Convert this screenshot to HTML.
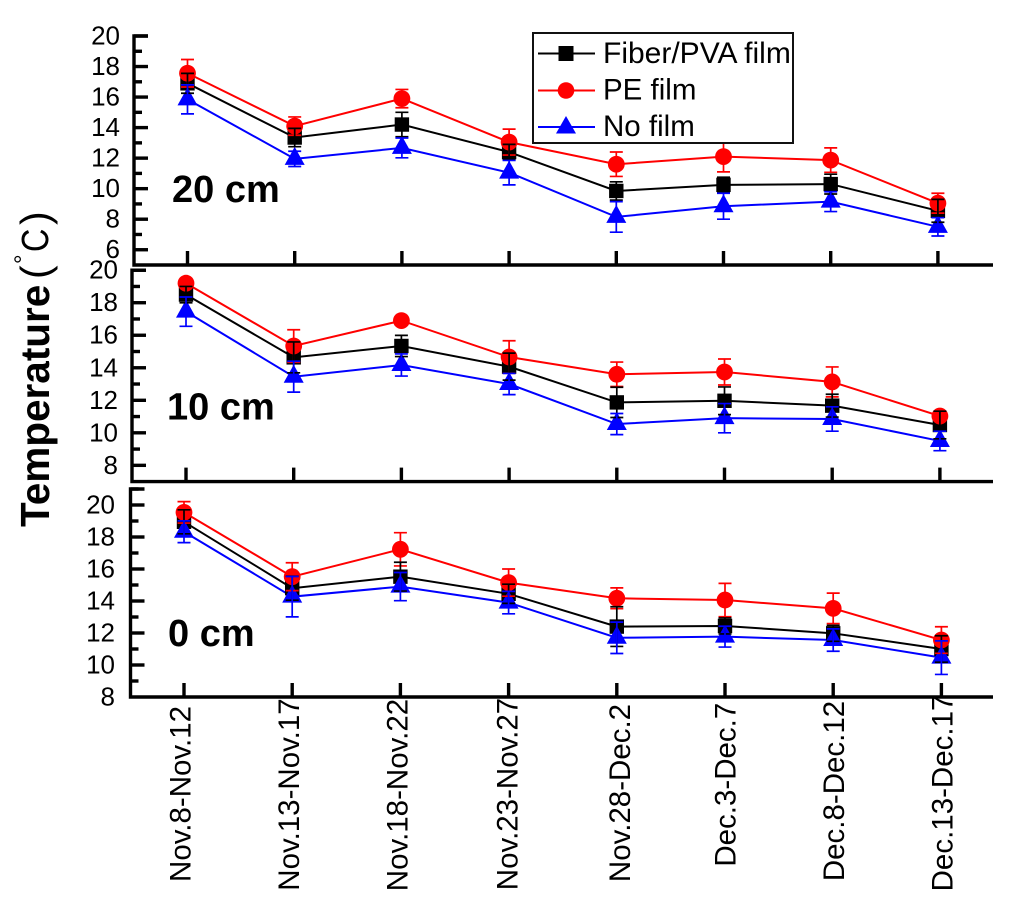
<!DOCTYPE html>
<html lang="en">
<head>
<meta charset="utf-8">
<title>Temperature chart</title>
<style>
html,body{margin:0;padding:0;background:#fff;width:1024px;height:910px;overflow:hidden}
svg{display:block}
text{font-family:"Liberation Sans",sans-serif;fill:#000}
</style>
</head>
<body>
<svg id="chart" xmlns="http://www.w3.org/2000/svg" width="1024" height="910" viewBox="0 0 1024 910">
  <g id="panels"></g>
  <g font-size="29.5" text-anchor="middle">
    <text transform="translate(190.7 794) rotate(-90)">Nov.8-Nov.12</text>
    <text transform="translate(299 794.5) rotate(-90)">Nov.13-Nov.17</text>
    <text transform="translate(407.5 795) rotate(-90)">Nov.18-Nov.22</text>
    <text transform="translate(517.7 794) rotate(-90)">Nov.23-Nov.27</text>
    <text transform="translate(630 793) rotate(-90)">Nov.28-Dec.2</text>
    <text transform="translate(735.7 784.7) rotate(-90)">Dec.3-Dec.7</text>
    <text transform="translate(844 791) rotate(-90)">Dec.8-Dec.12</text>
    <text transform="translate(952.3 793) rotate(-90)">Dec.13-Dec.17</text>
  </g>
  <g>
    <text transform="translate(49 527) rotate(-90)" font-size="40.5" font-weight="bold">Temperature</text>
    <text transform="translate(49 279) rotate(-90)" font-size="41">(</text>
    <text transform="translate(31 264) rotate(-90)" font-size="24">°</text>
    <text transform="translate(48 252) rotate(-90) scale(.85 1)" font-size="38">C</text>
    <text transform="translate(49 225) rotate(-90)" font-size="41">)</text>
  </g>
  <g id="legend">
    <rect x="533" y="33" width="260" height="110" fill="#fff" stroke="#111" stroke-width="2"></rect>
    <g>
      <line x1="538" x2="595" y1="53.5" y2="53.5" stroke="#000" stroke-width="2"></line>
      <rect x="558.5" y="46" width="15" height="15" fill="#000"></rect>
      <text x="603" y="63" font-size="30">Fiber/PVA film</text>
    </g>
    <g>
      <line x1="538" x2="595" y1="90.5" y2="90.5" stroke="#f00" stroke-width="2"></line>
      <circle cx="566" cy="90.5" r="8.3" fill="#f00"></circle>
      <text x="603" y="99.5" font-size="29.5">PE film</text>
    </g>
    <g>
      <line x1="538" x2="595" y1="127" y2="127" stroke="#00f" stroke-width="2"></line>
      <polygon points="566,116 556,133.5 576,133.5" fill="#00f"></polygon>
      <text x="603" y="136" font-size="29.5">No film</text>
    </g>
  </g>
</svg>
<script>
const categories = ["Nov.8-Nov.12","Nov.13-Nov.17","Nov.18-Nov.22","Nov.23-Nov.27","Nov.28-Dec.2","Dec.3-Dec.7","Dec.8-Dec.12","Dec.13-Dec.17"];

const fiber20 = [16.9,13.35,14.2,12.4,9.85,10.25,10.3,8.55];
const pe20    = [17.56,14.1,15.9,13.05,11.6,12.1,11.87,9.05];
const none20  = [15.85,11.95,12.67,11.05,8.15,8.85,9.15,7.5];
const fiber20Err = [0.65,0.6,0.8,0.5,0.6,0.5,0.65,0.75];
const pe20Err    = [0.9,0.6,0.6,0.85,0.8,1.0,0.8,0.65];
const none20Err  = [0.95,0.5,0.65,0.8,1.0,0.85,0.65,0.6];

const fiber10 = [18.5,14.64,15.34,14.07,11.87,11.97,11.67,10.48];
const pe10    = [19.2,15.34,16.9,14.66,13.6,13.74,13.13,11.03];
const none10  = [17.45,13.45,14.17,13.0,10.54,10.9,10.85,9.5];
const fiber10Err = [0.5,0.95,0.65,0.83,0.93,0.85,0.7,0.85];
const pe10Err    = [0.2,1.0,0.2,1.0,0.75,0.8,0.92,0.25];
const none10Err  = [0.9,0.95,0.68,0.65,0.65,0.9,0.75,0.6];

const fiber0 = [18.95,14.8,15.52,14.45,12.4,12.44,11.98,11.0];
const pe0    = [19.54,15.52,17.23,15.15,14.17,14.06,13.54,11.56];
const none0  = [18.33,14.27,14.9,13.9,11.7,11.77,11.56,10.46];
const fiber0Err = [0.75,0.75,0.9,0.6,1.24,0.5,0.5,0.83];
const pe0Err    = [0.67,0.87,1.04,0.85,0.65,1.04,0.95,0.83];
const none0Err  = [0.68,1.26,0.88,0.7,0.98,0.65,0.7,1.05];

const ticks20 = ["20","18","16","14","12","10","8","6"];
const ticks10 = ["20","18","16","14","12","10","8"];
const ticks0  = ["20","18","16","14","12","10","8"];

const panelLabel20 = "20 cm";
const panelLabel10 = "10 cm";
const panelLabel0  = "0 cm";

const NS = "http://www.w3.org/2000/svg";
const root = document.getElementById("panels");

function make(tag, attrs, parent) {
  const el = document.createElementNS(NS, tag);
  for (const k in attrs) el.setAttribute(k, attrs[k]);
  parent.appendChild(el);
  return el;
}

function drawPanel(cfg) {
  const g = make("g", {}, root);
  
  
  const xAt = function (i) { return cfg.x0 + cfg.dx * i; };
  const yAt = function (v) { return cfg.yTop + (cfg.vMax - v) * (cfg.yBottom - cfg.yTop) / (cfg.vMax - cfg.vMin); };

  const axes = make("g", {stroke: "#000", "stroke-width": 3.4, fill: "none"}, g);
  
  
  make("path", {d: "M" + (cfg.axisX + 14) + " " + cfg.yTop + "H" + cfg.axisX + "V" + cfg.yBottom + "H" + cfg.axisRight}, axes);

  for (let v = cfg.vMin + 1; v <= cfg.vMax; v++) {
    const isMajor = cfg.tickLabels.indexOf(String(v)) >= 0;
    const tick = make("line", {x1: cfg.axisX, x2: cfg.axisX + (isMajor ? 14 : 8), y1: yAt(v), y2: yAt(v)}, axes);
    
    
  }
  cfg.tickLabels.forEach(function (t) {
    const txt = make("text", {x: cfg.labelX, y: yAt(Number(t)) + 8.5, "font-size": 26, "text-anchor": "end"}, g);
    
    
    txt.textContent = t;
  });
  categories.forEach(function (c, i) {
    const tick = make("line", {x1: xAt(i), x2: xAt(i), y1: cfg.yBottom, y2: cfg.yBottom - 14}, axes);
    
    
  });

  const lab = make("text", {x: cfg.textX, y: cfg.textY, "font-size": 38, "font-weight": "bold"}, g);
  
  
  lab.textContent = cfg.label;

  const series = [
    {name: "fiber-pva", color: "#000", vals: cfg.fiber, errs: cfg.fiberErr, shape: "square"},
    {name: "pe", color: "#f00", vals: cfg.pe, errs: cfg.peErr, shape: "circle"},
    {name: "no-film", color: "#00f", vals: cfg.none, errs: cfg.noneErr, shape: "triangle"}
  ];

  series.forEach(function (s) {
    const line = make("polyline", {
      points: s.vals.map(function (v, i) { return xAt(i) + "," + yAt(v); }).join(" "),
      fill: "none", stroke: s.color, "stroke-width": 2
    }, g);
    
    
  });

  series.forEach(function (s) {
    s.vals.forEach(function (v, i) {
      const x = xAt(i), y = yAt(v);
      let m;
      if (s.shape === "square") {
        m = make("rect", {x: x - 7.2, y: y - 7.2, width: 14.4, height: 14.4, fill: s.color}, g);
      } else if (s.shape === "circle") {
        m = make("circle", {cx: x, cy: y, r: 8.4, fill: s.color}, g);
      } else {
        m = make("polygon", {points: x + "," + (y - 12) + " " + (x - 10) + "," + (y + 6) + " " + (x + 10) + "," + (y + 6), fill: s.color}, g);
      }
      
      
    });
  });

  [series[1], series[0], series[2]].forEach(function (s) {
    s.vals.forEach(function (v, i) {
      const x = xAt(i), hi = yAt(v + s.errs[i]), lo = yAt(v - s.errs[i]);
      const e = make("path", {
        d: "M" + (x - 6.5) + " " + hi + "H" + (x + 6.5) + "M" + x + " " + hi + "V" + lo + "M" + (x - 6.5) + " " + lo + "H" + (x + 6.5),
        fill: "none", stroke: s.color, "stroke-width": 1.7
      }, g);
      
      
    });
  });
}

drawPanel({key: "20cm", x0: 187.5, dx: 107.2, yTop: 36, yBottom: 265, vMax: 20, vMin: 5, axisX: 134, axisRight: 993, labelX: 120, tickLabels: ticks20, label: panelLabel20, textX: 172, textY: 202, fiber: fiber20, pe: pe20, none: none20, fiberErr: fiber20Err, peErr: pe20Err, noneErr: none20Err});
drawPanel({key: "10cm", x0: 186, dx: 107.7, yTop: 270.2, yBottom: 481.6, vMax: 20, vMin: 7, axisX: 132, axisRight: 993, labelX: 118, tickLabels: ticks10, label: panelLabel10, textX: 167, textY: 419.5, fiber: fiber10, pe: pe10, none: none10, fiberErr: fiber10Err, peErr: pe10Err, noneErr: none10Err});
drawPanel({key: "0cm", x0: 184, dx: 108.2, yTop: 489, yBottom: 697, vMax: 21, vMin: 8, axisX: 130.5, axisRight: 993, labelX: 115, tickLabels: ticks0, label: panelLabel0, textX: 168, textY: 646, fiber: fiber0, pe: pe0, none: none0, fiberErr: fiber0Err, peErr: pe0Err, noneErr: none0Err});
</script>
</body>
</html>
